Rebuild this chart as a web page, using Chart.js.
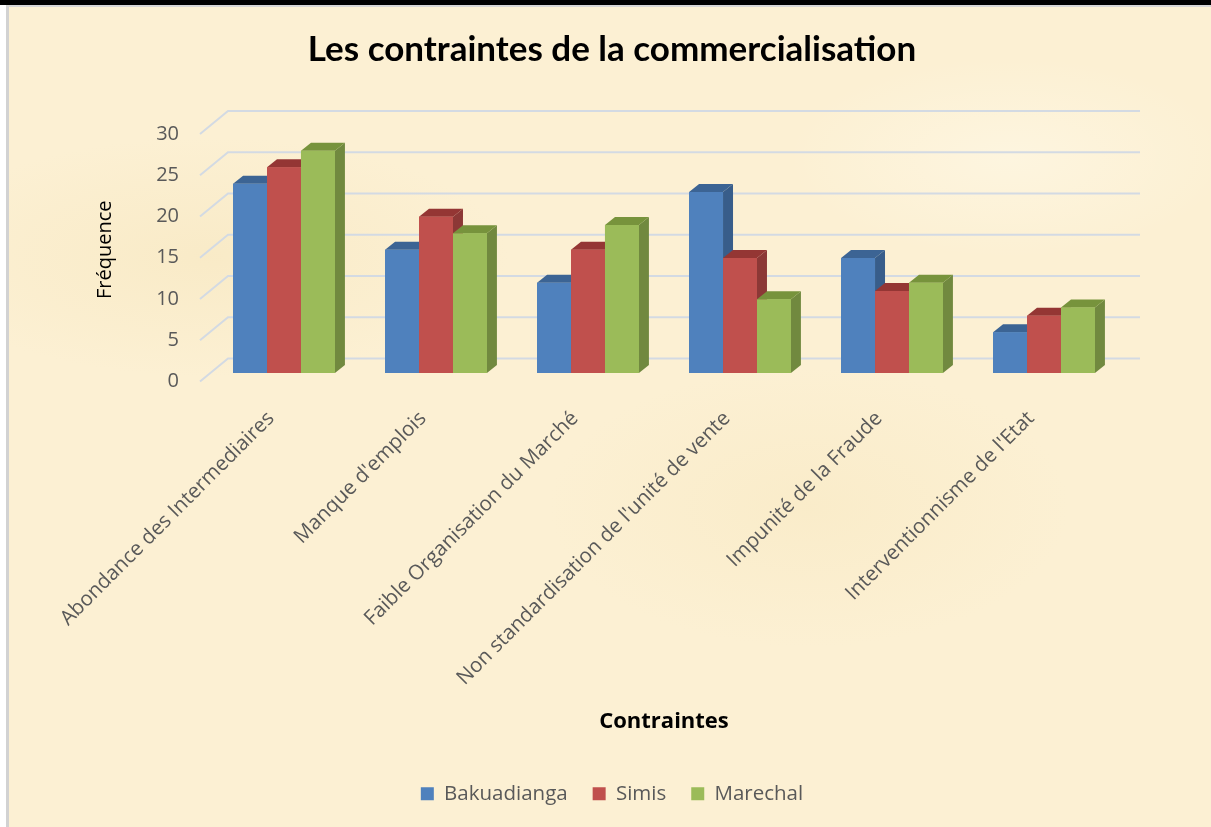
<!DOCTYPE html>
<html>
<head>
<meta charset="utf-8">
<script src="https://cdn.jsdelivr.net/npm/chart.js@4.4.1/dist/chart.umd.min.js"></script>
<style>
  html, body { margin:0; padding:0; width:1211px; height:827px; overflow:hidden; background:#ffffff; }
  #topbar { position:absolute; left:0; top:0; width:1211px; height:5px; background:#000; }
  #frame { position:absolute; left:6px; top:5px; width:1202px; height:820px;
    border-top:2px solid #d6d6d6; border-left:3px solid #d2d2d2;
    background:
      radial-gradient(ellipse 300px 120px at 200px 250px, rgba(245,228,185,0.45), rgba(0,0,0,0)),
      radial-gradient(ellipse 260px 140px at 800px 500px, rgba(247,231,190,0.45), rgba(0,0,0,0)),
      radial-gradient(ellipse 220px 100px at 1000px 150px, rgba(255,250,235,0.5), rgba(0,0,0,0)),
      #fcf0d3; }
  #wrap { position:absolute; left:0; top:0; width:1211px; height:827px; }
</style>
</head>
<body>
<div id="topbar"></div>
<div id="frame"></div>
<div id="wrap"><canvas id="c" width="1211" height="827"></canvas></div>
<script>
const categories = [
  "Abondance des Intermediaires",
  "Manque d'emplois",
  "Faible Organisation du Marché",
  "Non standardisation de l'unité de vente",
  "Impunité de la Fraude",
  "Interventionnisme de l'Etat"
];
const seriesNames = ["Bakuadianga", "Simis", "Marechal"];
const bakuadianga = [23, 15, 11, 22, 14, 5];
const simis = [25, 19, 15, 14, 10, 7];
const marechal = [27, 17, 18, 9, 11, 8];
const yTicks = [0, 5, 10, 15, 20, 25, 30];

const frontColors = ["#4f81bd", "#c0504d", "#9bbb59"];
const sideColors  = ["#385d8a", "#8c3836", "#71893f"];
const topColors   = ["#3c6494", "#943634", "#77933c"];

const DX = 10, DY = 8;            // bar depth
const BACK_DX = 20, BACK_DY = 15; // back wall offset from bar plane
const FRONT_D = 8;                // front edge offset from bar plane

const wallPlugin = {
  id: 'wall3d',
  beforeDatasetsDraw(chart) {
    const {ctx, chartArea} = chart;
    const ys = chart.scales.y;
    ctx.save();
    ctx.strokeStyle = '#d3dae3';
    ctx.lineWidth = 2;
    yTicks.forEach(v => {
      const y = ys.getPixelForValue(v);
      ctx.beginPath();
      ctx.moveTo(chartArea.left - FRONT_D, y + FRONT_D);
      ctx.lineTo(chartArea.left + BACK_DX, y - BACK_DY);
      ctx.lineTo(chartArea.right + BACK_DX, y - BACK_DY);
      ctx.stroke();
    });
    ctx.restore();
  }
};

const barPlugin = {
  id: 'bar3d',
  afterDatasetsDraw(chart) {
    const {ctx} = chart;
    const metas = [0,1,2].map(i => chart.getDatasetMeta(i));
    ctx.save();
    for (let j = 0; j < categories.length; j++) {
      for (let i = 0; i < metas.length; i++) {
        const el = metas[i].data[j];
        if (!el) continue;
        const {x, y, base, width} = el.getProps(['x','y','base','width'], true);
        const l = x - width/2, r = x + width/2;
        ctx.fillStyle = sideColors[i];
        ctx.beginPath();
        ctx.moveTo(r, y); ctx.lineTo(r + DX, y - DY); ctx.lineTo(r + DX, base - DY); ctx.lineTo(r, base);
        ctx.closePath(); ctx.fill();
        ctx.fillStyle = topColors[i];
        ctx.beginPath();
        ctx.moveTo(l, y); ctx.lineTo(l + DX, y - DY); ctx.lineTo(r + DX, y - DY); ctx.lineTo(r, y);
        ctx.closePath(); ctx.fill();
        ctx.fillStyle = frontColors[i];
        ctx.fillRect(l, y, width, base - y);
      }
    }
    ctx.restore();
  }
};

const datasets = [bakuadianga, simis, marechal].map((d, i) => ({
  label: seriesNames[i],
  data: d,
  backgroundColor: frontColors[i],
  borderWidth: 0,
  categoryPercentage: 0.67,
  barPercentage: 1.0
}));

new Chart(document.getElementById('c'), {
  type: 'bar',
  data: { labels: categories, datasets },
  plugins: [wallPlugin, barPlugin],
  options: {
    responsive: false,
    animation: false,
    layout: { padding: { left: 13, right: 0, top: 10, bottom: 13 } },
    plugins: {
      tooltip: { enabled: false },
      title: {
        display: true,
        text: 'Les contraintes de la commercialisation',
        color: '#000',
        font: { family: 'Lato', weight: 'bold', size: 35 },
        padding: { top: 19, bottom: 55 }
      },
      legend: {
        position: 'bottom',
        labels: {
          color: '#595959',
          font: { family: 'Open Sans', size: 20.5 },
          boxWidth: 13, boxHeight: 13, padding: 25
        }
      }
    },
    scales: {
      x: {
        grid: { display: false, drawTicks: false },
        border: { display: false },
        ticks: {
          minRotation: 45, maxRotation: 45, autoSkip: false,
          color: '#595959',
          font: { family: 'Open Sans', size: 20.5 },
          padding: 33, labelOffset: -13
        },
        title: {
          display: true, text: 'Contraintes', color: '#000',
          font: { family: 'Open Sans', weight: 'bold', size: 22 },
          padding: { top: 0, bottom: 24 }
        },
        afterFit(s) { s.height = 385; }
      },
      y: {
        min: 0, max: 30,
        afterBuildTicks(s) { s.ticks = yTicks.map(v => ({ value: v })); },
        grid: { color: 'rgba(0,0,0,0)', drawTicks: false },
        border: { display: false },
        ticks: {
          color: '#595959',
          font: { family: 'Open Sans', size: 20 },
          padding: 29, labelOffset: 8
        },
        title: {
          display: true, text: 'Fréquence', color: '#000',
          font: { family: 'Open Sans', size: 20 },
          padding: { top: 80, bottom: 0 }
        },
        afterFit(s) { s.width = 195; }
      },
      yRight: {
        position: 'right',
        display: true,
        grid: { display: false, drawTicks: false },
        border: { display: false },
        ticks: { display: false },
        afterFit(s) { s.width = 91; }
      }
    }
  }
});
</script>
</body>
</html>
